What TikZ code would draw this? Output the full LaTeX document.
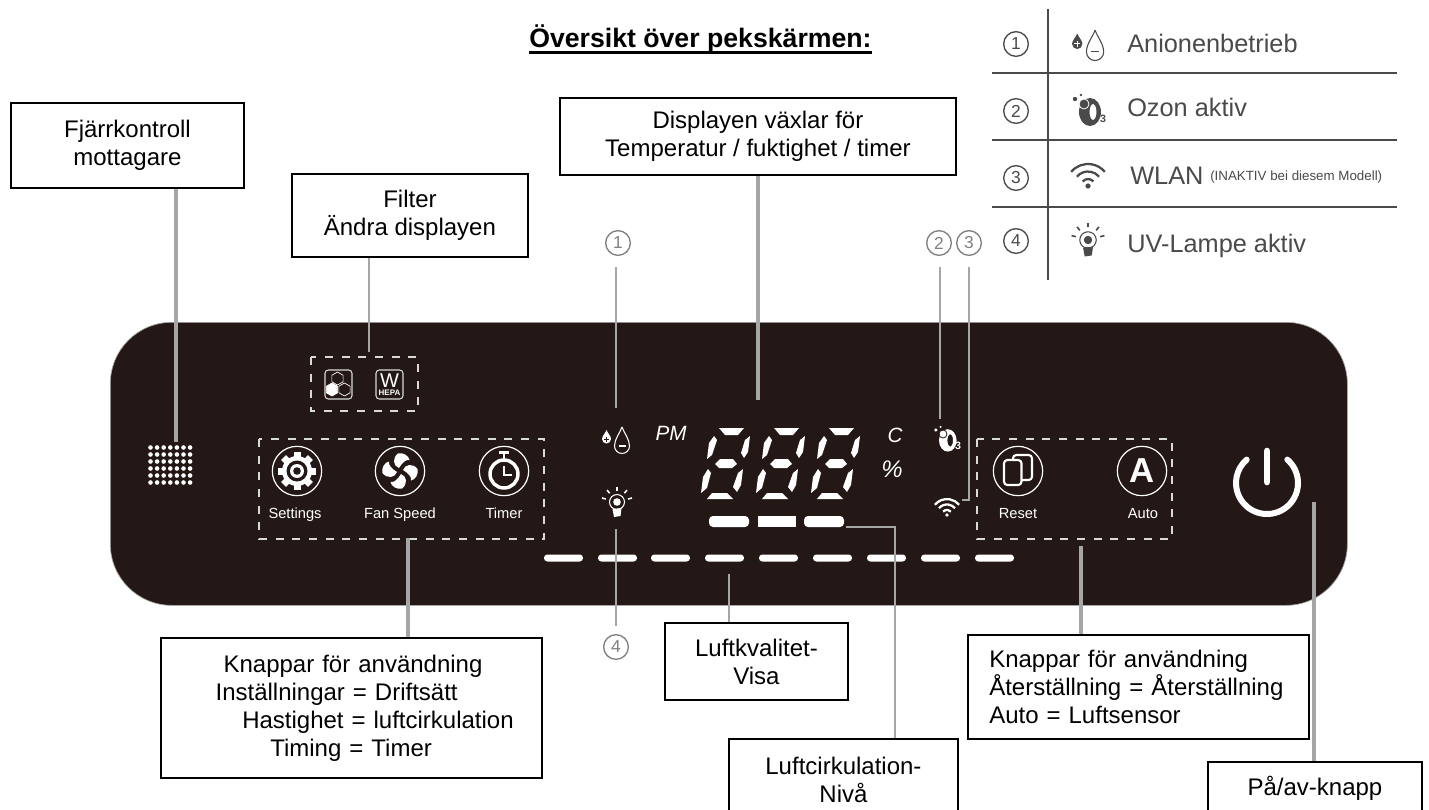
\documentclass[tikz,border=0pt]{standalone}
\usepackage{fontspec}
\setmainfont{Liberation Sans}
\usetikzlibrary{calc}
\definecolor{panelbg}{HTML}{231815}
\definecolor{leadgray}{HTML}{A6A6A6}
\definecolor{legendgray}{HTML}{4A4A4A}
\newcommand{\hsp}[1]{\hspace*{#1pt}}
\newcommand{\hexcell}[3][]{\draw[#1] (#2,#3) +(30:6.5) -- +(90:6.5) -- +(150:6.5) -- +(210:6.5) -- +(270:6.5) -- +(330:6.5) -- cycle;}
\tikzset{
	px/.store in=\px,
	px=.75pt,
	iconfg/.store in=\iconfg,
	iconfg=white,
	iconbg/.store in=\iconbg,
	iconbg=panelbg,
	tag/.code 2 args={
		\pgfmathsetlengthmacro{\tagw}{#1*\px}
		\pgfmathsetlengthmacro{\tagh}{#2*\px}
		\pgfkeysalso{draw,line width=1.4pt,fill=white,anchor=north west,inner sep=0pt,
			minimum width=\tagw,minimum height=\tagh,align=center,
			font=\fontsize{18}{21}\selectfont}
	},
	leader/.style={draw=leadgray,line width=1.7pt},
	heavy leader/.style={leader,line width=2.4pt},
	numc/.style={circle,draw=#1,text=#1,line width=1pt,minimum size=18.5pt,inner sep=0pt,
		font=\fontsize{13}{13}\selectfont},
	numc/.default=legendgray,
	legtext/.style={anchor=base west,inner sep=0pt,text=legendgray,font=\fontsize{19}{19}\selectfont},
	groupbox/.style={draw=white!85!black,line width=.9pt,dash pattern=on 6pt off 6.5pt},
	btn/.style={circle,draw=white,line width=.9pt,minimum size=37pt,inner sep=0pt},
	btnlabel/.style={anchor=base,text=white,font=\fontsize{11}{11}\selectfont},
	lcdtext/.style={anchor=base,text=white,font=\fontsize{15.5}{15.5}\itshape\selectfont},
	dropicon/.pic={
		\draw[draw=\iconfg,line width=.8pt] (7,-13) .. controls (9,-7) and (14.5,-1) .. (14.5,6)
			arc[start angle=0,end angle=180,radius=7.5] .. controls (-.5,-1) and (5,-7) .. (7,-13);
		\draw[draw=\iconfg,line width=.8pt] (3.5,6) -- (10.5,6);
		\fill[fill=\iconfg] (-8.5,-10) .. controls (-7.5,-7) and (-4,-4) .. (-4,-1)
			arc[start angle=0,end angle=180,radius=4.5] .. controls (-13,-4) and (-9.5,-7) .. (-8.5,-10);
		\draw[draw=\iconbg,line width=.6pt] (-11,-1) -- (-6,-1) (-8.5,-3.5) -- (-8.5,1.5);
	},
	ozoneicon/.pic={
		\fill[fill=\iconfg,even odd rule] (1,3) ellipse[x radius=11,y radius=14] (4,3) ellipse[x radius=3.5,y radius=8];
		\fill[fill=\iconfg,draw=\iconbg,line width=.6pt] (-5,-5) circle[radius=5];
		\fill[fill=\iconfg] (-14,-10) circle[radius=2.2] (-8,-14) circle[radius=1.4];
		\node[text=\iconfg,inner sep=0pt,font=\fontsize{8}{8}\bfseries\selectfont] (ozonesub) at (14,10) {3};
	},
	wifiicon/.pic={
		\foreach \r in {7,14.5,22}
			\draw[draw=\iconfg,line width=1.7pt] (0,11) ++(-140:\r) arc[start angle=-140,end angle=-40,radius=\r];
		\fill[fill=\iconfg] (0,11) circle[radius=2.6];
	},
	bulbicon/.pic={
		\foreach \a in {-165,-130,-90,-50,-15}
			\draw[draw=\iconfg,line width=1.2pt] (\a:11.5) -- (\a:15.5);
		\draw[draw=\iconfg,line width=.8pt] (0,0) circle[radius=7.5];
		\fill[fill=\iconfg] (0,0) circle[radius=3.8];
		\fill[fill=\iconfg] (-4.5,7) -- (4.5,6) -- (3.5,14) -- (-3,15) -- cycle;
	},
	filterhex/.pic={
		\draw[draw=white!85!black,line width=.8pt,rounded corners=2.5pt] (-13.5,-14.5) rectangle (13.5,14.5);
		\hexcell[draw=white,line width=.5pt]{-1}{-6}
		\hexcell[draw=white,fill=white,line width=.5pt]{-6.5}{5}
		\hexcell[draw=white,line width=.5pt]{6}{5}
	},
	filterhepa/.pic={
		\draw[draw=white!85!black,line width=.8pt,rounded corners=2.5pt] (-13.5,-14.5) rectangle (13.5,14.5);
		\node[text=white,inner sep=0pt,font=\fontsize{15}{15}\selectfont] (hepaw) at (0,-4) {W};
		\node[text=white,inner sep=0pt,font=\fontsize{6}{6}\bfseries\selectfont] (hepat) at (0,8) {HEPA};
	},
	gearicon/.pic={
		\foreach \a in {0,45,...,315}
			\fill[fill=white,rotate=\a] (-3.5,-19) rectangle (3.5,-12);
		\fill[fill=white] (0,0) circle[radius=15];
		\fill[fill=panelbg] (0,0) circle[radius=10.5];
		\fill[fill=white] (0,0) circle[radius=7];
		\fill[fill=panelbg] (0,0) circle[radius=3.8];
	},
	fanicon/.pic={
		\foreach \a in {0,90,180,270}
			\fill[fill=white,rotate=\a] (-1,-3) .. controls (-7,-5) and (-8,-13) .. (-2,-17.5)
				.. controls (3,-19) and (9,-15) .. (9.5,-11) .. controls (6,-12) and (2,-8) .. (-1,-3);
	},
	timericon/.pic={
		\draw[draw=white,line width=2.6pt] (0,3) circle[radius=14];
		\draw[draw=white,line width=1.8pt] (-5,-18.5) -- (5,-18.5) (0,-18.5) -- (0,-12);
		\draw[draw=white,line width=1.3pt] (0,-5) -- (0,4) -- (8,4);
	},
	reseticon/.pic={
		\draw[draw=white,line width=1.6pt,rounded corners=2.5pt] (-5,-16) rectangle (14,9);
		\draw[draw=white,fill=panelbg,line width=1.6pt,rounded corners=2.5pt] (-14,-11) rectangle (3.5,14);
	}
}

\begin{document}
\begin{tikzpicture}[x=\px,y=-\px]
   \clip (0,0) rectangle (1429,810);
   \fill[white] (0,0) rectangle (1429,810);

   % panel
   \node[draw=leadgray,line width=.5pt,fill=panelbg,rounded corners=46pt,anchor=north west,inner sep=0pt,
      minimum width=927.75pt,minimum height=212.25pt] (panel) at (110,322) {};
   \draw[groupbox] (311,357) rectangle (418,411);
   \draw[groupbox] (259,439) rectangle (544,539);
   \draw[groupbox] (977,439) rectangle (1172,539);
   \pic at (338.5,384.5) {filterhex};
   \pic at (389.5,384.5) {filterhepa};
   \foreach \i in {0,...,6}
      \foreach \j in {0,...,5}
         \fill[white] ({150.5+6.6*\i},{447.5+7*\j}) circle[radius=2.3];

   % buttons
   \node[btn] (settings) at (297,471) {};
   \node[btn] (fanspeed) at (400,471) {};
   \node[btn] (timer) at (504,471) {};
   \node[btn] (reset) at (1018,471) {};
   \node[btn] (auto) at (1142,471) {};
   \pic at (settings) {gearicon};
   \pic at (fanspeed) {fanicon};
   \pic at (timer) {timericon};
   \pic at (reset) {reseticon};
   \node[text=white,inner sep=0pt,font=\fontsize{26}{26}\bfseries\selectfont] (autoa) at (1142,471) {A};
   \node[btnlabel] (settingstxt) at (295,518) {Settings};
   \node[btnlabel] (fanspeedtxt) at (400,518) {Fan Speed};
   \node[btnlabel] (timertxt) at (504,518) {Timer};
   \node[btnlabel] (resettxt) at (1018,518) {Reset};
   \node[btnlabel] (autotxt) at (1143,518) {Auto};
   \draw[white,line width=4.5pt,line cap=round] (1267,483) ++(-49:31) arc[start angle=-49,end angle=229,radius=31];
   \draw[white,line width=5pt,line cap=round] (1267,451) -- (1267,482);

   % display
   \foreach \dx in {0,55,110} {
      \begin{scope}[shift={(\dx,0)}]
         \fill[white] (719,428) -- (744,428) -- (738,435) -- (725,435) -- cycle;
         \fill[white] (714,436) -- (717,440) -- (712,455) -- (707,459) -- (709,443) -- cycle;
         \fill[white] (750,436) -- (748,452) -- (744,458) -- (741,453) -- (745,440) -- cycle;
         \fill[white] (715,464) -- (720,459) -- (733,459) -- (737,464) -- (732,468) -- (719,468) -- cycle;
         \fill[white] (708,469) -- (711,473) -- (707,488) -- (701,493) -- (703,477) -- cycle;
         \fill[white] (743,469) -- (741,485) -- (737,492) -- (733,487) -- (738,473) -- cycle;
         \fill[white] (707,499) -- (733,499) -- (727,493) -- (712,493) -- cycle;
      \end{scope}
   }
   \node[lcdtext] (pmtxt) at (671,440) {PM};
   \node[lcdtext] (ctxt) at (895,442) {C};
   \node[lcdtext,font=\fontsize{18}{18}\itshape\selectfont] (pcttxt) at (892,477) {\%};
   \pic at (615,440) {dropicon};
   \pic at (617,502) {bulbicon};
   \pic[scale=.8] at (947,438) {ozoneicon};
   \pic[scale=.72] at (947,507) {wifiicon};
   \foreach \x in {544,598,651,705,759,813,867,921,975}
      \fill[white,rounded corners=2.5pt] (\x,554.5) rectangle ++(39,7);
   \fill[white,rounded corners=3pt] (709,516) rectangle (749,527);
   \fill[white] (758,516) rectangle (796,527);
   \fill[white,rounded corners=3pt] (804,516) rectangle (844,527);

   % legend
   \draw[legendgray,line width=1.6pt] (1048,9) -- (1048,280);
   \foreach \y in {73,140,207}
      \draw[legendgray,line width=1.6pt] (992,\y) -- (1397,\y);
   \node[numc] (leg1) at (1016,44) {1};
   \node[numc] (leg2) at (1016,111) {2};
   \node[numc] (leg3) at (1016,178) {3};
   \node[numc] (leg4) at (1016,241) {4};
   \pic[iconfg=legendgray,iconbg=white,scale=1.15] at (1087,45) {dropicon};
   \pic[iconfg=legendgray,iconbg=white] at (1089,109) {ozoneicon};
   \pic[iconfg=legendgray,iconbg=white,scale=1] at (1088,175) {wifiicon};
   \pic[iconfg=legendgray,iconbg=white,scale=1.1] at (1088,240) {bulbicon};
   \node[legtext] (legtxt1) at (1127,52) {Anionenbetrieb};
   \node[legtext] (legtxt2) at (1127,116) {Ozon aktiv};
   \node[legtext] (legtxt3) at (1130,184) {WLAN};
   \node[legtext,font=\fontsize{10}{10}\selectfont] (legtxt3b) at (1210,180) {(INAKTIV bei diesem Modell)};
   \node[legtext] (legtxt4) at (1127,252) {UV-Lampe aktiv};

   % title
   \node[anchor=base west,inner sep=0pt,font=\fontsize{20}{20}\bfseries\selectfont] (title) at (529,47) {Översikt över pekskärmen:};
   \draw[line width=1.8pt] ($(title.base west)+(0,5.5)$) -- ($(title.base east)+(0,5.5)$);

   % boxes
   \node[tag={233}{85}] (fjarr) at (10,102) {Fjärrkontroll\\mottagare};
   \node[tag={236}{83}] (filter) at (291,173) {Filter\\Ändra displayen};
   \node[tag={396}{77}] (displ) at (559,97) {Displayen växlar för\\Temperatur / fuktighet / timer};
   \node[tag={381}{140},align=left,text width=285.75pt] (knappl) at (160,637) {\hsp{47}Knappar för användning\\\hsp{41}Inställningar = Driftsätt\\\hsp{61}Hastighet = luftcirkulation\\\hsp{82}Timing = Timer};
   \node[tag={183}{77}] (luftkv) at (664,622) {Luftkvalitet-\\Visa};
   \node[tag={229}{82}] (luftcirk) at (728,738) {Luftcirkulation-\\Nivå};
   \node[tag={341}{104},align=left,text width=255.75pt] (knappr) at (967,634) {\hsp{16}Knappar för användning\\\hsp{16}Återställning = Återställning\\\hsp{16}Auto = Luftsensor};
   \node[tag={214}{52}] (paav) at (1207,761) {På/av-knapp};

   \node[numc=gray] (num1) at (618,243) {1};
   \node[numc=gray] (num2) at (939,243) {2};
   \node[numc=gray] (num3) at (969,243) {3};
   \node[numc=gray] (num4) at (616,647) {4};

   % leaders
   \coordinate (fjarrend) at (176,442);
   \coordinate (filterend) at (369,352);
   \coordinate (displend) at (758,400);
   \coordinate (anionend) at (616,408);
   \coordinate (ozonend) at (940,419);
   \coordinate (wlanbend) at (969,500);
   \coordinate (wlanend) at (962,500);
   \coordinate (uvend) at (616,529);
   \coordinate (settingsend) at (408,538);
   \coordinate (luftkvend) at (729,574);
   \coordinate (fanbend) at (895,527);
   \coordinate (fanend) at (846,527);
   \coordinate (resetend) at (1081,546);
   \coordinate (powerend) at (1314,502);
   \draw[heavy leader] (fjarr.south -| fjarrend) -- (fjarrend);
   \draw[leader] (filter.south -| filterend) -- (filterend);
   \draw[heavy leader] (displ.south -| displend) -- (displend);
   \draw[leader,shorten <=8.5pt] (num1.south -| anionend) -- (anionend);
   \draw[leader,shorten <=8.5pt] (num2.south -| ozonend) -- (ozonend);
   \draw[leader,shorten <=8.5pt] (num3.south -| wlanbend) -- (wlanbend) -- (wlanend);
   \draw[leader,shorten <=6pt] (num4.north -| uvend) -- (uvend);
   \draw[heavy leader] (knappl.north -| settingsend) -- (settingsend);
   \draw[leader] (luftkv.north -| luftkvend) -- (luftkvend);
   \draw[leader] (luftcirk.north -| fanbend) -- (fanbend) -- (fanend);
   \draw[heavy leader] (knappr.north -| resetend) -- (resetend);
   \draw[heavy leader] (paav.north -| powerend) -- (powerend);
\end{tikzpicture}
\end{document}
